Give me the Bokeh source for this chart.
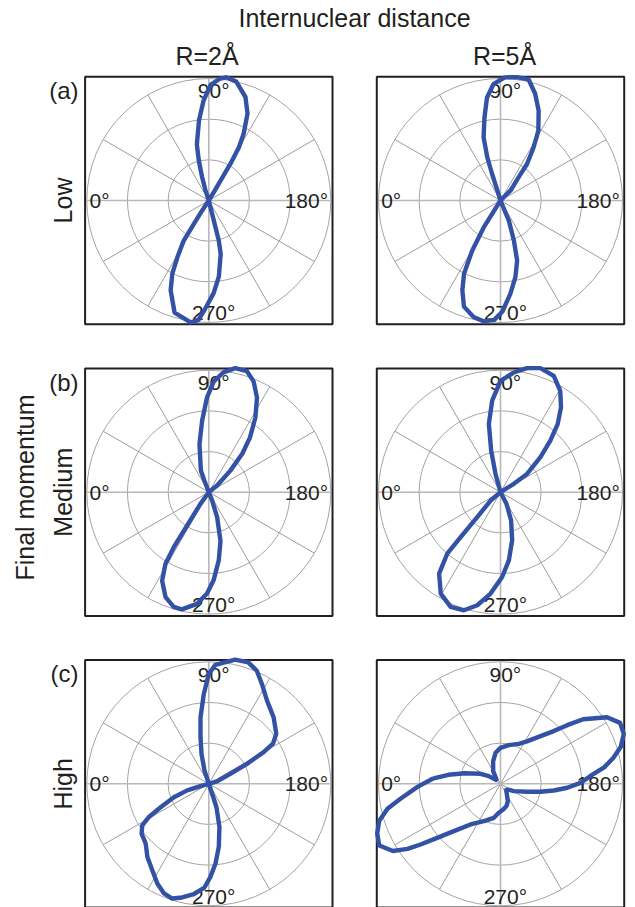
import numpy as np
from bokeh.plotting import figure
from bokeh.models import Range1d
from bokeh.embed import file_html
from bokeh.resources import INLINE
from bokeh.core.properties import value

# ---------------- data (angle in degrees, radius as fraction of outer ring) -------------
theta_low_r2 = [0, 69, 72, 74, 76, 78, 83, 87, 91, 95, 98, 103, 109.5, 114, 117.5, 119.5, 120.5, 120.5, 121, 122,
                255, 256, 256, 256, 257.5, 262.5, 267, 272, 275, 278.5, 287, 293, 296.5, 299, 302, 302.5, 303.5, 305, 360]
r_low_r2 = [0, 0, 0.09, 0.20, 0.34, 0.47, 0.66, 0.82, 0.95, 1.00, 1.02, 1.00, 0.90, 0.78, 0.62, 0.50, 0.35, 0.19, 0.08, 0,
            0, 0.11, 0.22, 0.34, 0.45, 0.63, 0.76, 0.89, 0.985, 1.01, 0.96, 0.80, 0.67, 0.53, 0.39, 0.23, 0.10, 0, 0]

theta_low_r5 = [0, 70, 72.5, 73, 75, 79, 82.5, 86.5, 92, 97.5, 103, 108, 113, 118.5, 122, 126, 128, 135, 140,
                245, 247.5, 251.5, 254.5, 259, 264, 269, 273, 278, 283, 289, 293, 296.5, 299.5, 302, 305, 360]
r_low_r5 = [0, 0, 0.23, 0.37, 0.535, 0.69, 0.85, 0.955, 1.01, 1.02, 1.02, 0.92, 0.80, 0.65, 0.51, 0.37, 0.24, 0.12, 0,
            0, 0.18, 0.345, 0.51, 0.64, 0.77, 0.91, 0.98, 1.0, 0.98, 0.92, 0.80, 0.67, 0.47, 0.26, 0, 0]

theta_med_r2 = [0, 67, 69, 70, 79, 84.7, 89, 92.6, 97, 102, 107.5, 112, 117, 122, 127, 131, 135, 141, 145,
                247, 248, 251.5, 256.5, 261.7, 266.8, 271, 276, 283, 287, 292.4, 297.8, 301.2, 302.5, 303, 305.5, 308, 360]
r_med_r2 = [0, 0, 0.10, 0.19, 0.40, 0.59, 0.78, 0.91, 0.99, 1.04, 1.04, 0.98, 0.87, 0.72, 0.56, 0.42, 0.25, 0.09, 0,
            0, 0.07, 0.215, 0.41, 0.565, 0.72, 0.83, 0.92, 0.986, 0.983, 0.93, 0.82, 0.685, 0.53, 0.34, 0.12, 0, 0]

theta_med_r5 = [0, 72, 74.7, 77.4, 80.3, 84.8, 90, 96.3, 102, 107.8, 114.6, 120.5, 125.5, 130, 134, 138.8, 145.5, 148, 152,
                240, 242.8, 249.4, 256.4, 263, 268.9, 275.6, 281.6, 287.2, 293.5, 300.5, 307, 310.9, 311.6, 313, 320, 325, 360]
r_med_r5 = [0, 0, 0.155, 0.35, 0.567, 0.753, 0.913, 0.987, 1.04, 1.068, 1.049, 0.965, 0.854, 0.729, 0.588, 0.435, 0.264, 0.129, 0,
            0, 0.107, 0.247, 0.406, 0.563, 0.695, 0.835, 0.946, 1.013, 1.025, 0.965, 0.836, 0.667, 0.492, 0.28, 0.106, 0, 0]

theta_high_r2 = [0, 70, 72, 76.3, 79.9, 82.9, 86.8, 90, 93.2, 97, 102, 108, 113, 118, 125, 134.3, 143.5, 148, 150, 152.4,
                 155, 164, 170, 250, 251.6, 251.8, 256.2, 261, 265.2, 269, 272.4, 277.7, 283.2, 287.7, 292.2, 297.3, 303.2,
                 310, 316.5, 323.4, 328, 331, 334, 339, 343, 344.4, 350, 360]
r_high_r2 = [0, 0, 0.115, 0.252, 0.388, 0.549, 0.737, 0.90, 0.977, 1.0, 1.04, 1.047, 1.007, 0.927, 0.832, 0.761, 0.688, 0.62, 0.519, 0.353,
             0.195, 0.07, 0, 0, 0.086, 0.2, 0.365, 0.524, 0.656, 0.763, 0.851, 0.913, 0.957, 0.987, 0.971, 0.92, 0.846,
             0.783, 0.713, 0.686, 0.643, 0.561, 0.439, 0.306, 0.185, 0.071, 0, 0]

theta_high_r5 = [4.7, 9.8, 16.3, 26.6, 33.4, 40, 48, 60, 72, 81, 90, 102, 114.6, 122, 130, 135.3, 138.7, 142, 148, 153,
                 158, 163, 167, 171, 175, 179.3, 183.4, 187.2, 191.3, 196.7, 208.8, 218, 228, 236, 247, 255, 264, 273.4, 281, 294,
                 306.4, 314.6, 319.5, 322.8, 325, 328, 333, 338, 343, 347.5, 351.5, 357.9]
r_high_r5 = [0.551, 0.433, 0.307, 0.183, 0.115, 0.05, 0.05, 0.12, 0.195, 0.257, 0.295, 0.324, 0.36, 0.41, 0.51, 0.614, 0.728, 0.86, 1.03, 1.10,
             1.09, 1.03, 0.95, 0.86, 0.74, 0.656, 0.548, 0.44, 0.334, 0.228, 0.125, 0.076, 0.07, 0.09, 0.154, 0.189, 0.212, 0.238, 0.284, 0.335,
             0.414, 0.545, 0.682, 0.823, 0.93, 1.04, 1.115, 1.09, 1.04, 0.949, 0.829, 0.681]

header = "Internuclear distance"
col_titles = ["R=2Å", "R=5Å"]
row_titles = ["Low", "Medium", "High"]
panel_tags = ["(a)", "(b)", "(c)"]
side_title = "Final momentum"
angle_tick_labels = ["0°", "90°", "180°", "270°"]
ring_values = [1 / 3, 2 / 3, 1.0]
spoke_angles = [30, 60, 120, 150, 210, 240, 300, 330]
axis_spoke_angles = [0, 90, 180, 270]

series = [
    [(theta_low_r2, r_low_r2), (theta_low_r5, r_low_r5)],
    [(theta_med_r2, r_med_r2), (theta_med_r5, r_med_r5)],
    [(theta_high_r2, r_high_r2), (theta_high_r5, r_high_r5)],
]

# ---------------- layout (pixels, origin top-left) ----------------
W, H = 635, 907
RING_PX = 122.0
BOX_HALF = 1.014
col_cx = [208.3, 500.0]
row_cy = [200.0, 491.7, 783.3]

FONT = value("Liberation Sans")
TXT = "#231f20"
BLUE = "#3452a5"

p = figure(width=W, height=H, x_range=Range1d(0, W), y_range=Range1d(0, H),
           output_backend="svg", toolbar_location=None, min_border=0,
           x_axis_type=None, y_axis_type=None, title=None)
p.outline_line_color = None
p.background_fill_color = "white"
p.border_fill_color = "white"


def pol(theta_deg, r):
    t = np.deg2rad(np.asarray(theta_deg, dtype=float))
    r = np.asarray(r, dtype=float)
    return (-r * np.cos(t)).tolist(), (r * np.sin(t)).tolist()


for i, cy in enumerate(row_cy):
    for j, cx in enumerate(col_cx):
        xn, yn = f"px{i}{j}", f"py{i}{j}"
        p.extra_x_ranges[xn] = Range1d((0 - cx) / RING_PX, (W - cx) / RING_PX)
        p.extra_y_ranges[yn] = Range1d((cy - H) / RING_PX, cy / RING_PX)
        kw = dict(x_range_name=xn, y_range_name=yn)

        # rings
        p.circle(x=[0] * len(ring_values), y=[0] * len(ring_values), radius=ring_values,
                 fill_color=None, line_color="#a4a4a4", line_width=1, **kw)
        # spokes
        sx, sy = pol(spoke_angles, [1.0] * len(spoke_angles))
        p.segment(x0=[0] * len(sx), y0=[0] * len(sx), x1=sx, y1=sy,
                  line_color="#9c9c9c", line_width=1, **kw)
        ax, ay = pol(axis_spoke_angles, [1.0] * 4)
        p.segment(x0=[0] * 4, y0=[0] * 4, x1=ax, y1=ay,
                  line_color="#b8b8b8", line_width=1.6, **kw)
        # box
        p.rect(x=[0], y=[0], width=[2 * BOX_HALF], height=[2 * BOX_HALF],
               fill_color=None, line_color=TXT, line_width=2, **kw)
        # angle labels
        lab = dict(text_font=FONT, text_font_size="21px", text_color=TXT, text_baseline="middle", **kw)
        p.text(x=[-0.978], y=[0.0], text=[angle_tick_labels[0]], text_align="left", **lab)
        p.text(x=[0.04], y=[0.9], text=[angle_tick_labels[1]], text_align="center", **lab)
        p.text(x=[0.978], y=[0.0], text=[angle_tick_labels[2]], text_align="right", **lab)
        p.text(x=[0.04], y=[-0.92], text=[angle_tick_labels[3]], text_align="center", **lab)
        # curve
        th, rr = series[i][j]
        th = list(th) + [th[0]]
        rr = list(rr) + [rr[0]]
        cxs, cys = pol(th, rr)
        p.line(x=cxs, y=cys, line_color=BLUE, line_width=4.4, line_join="round", **kw)


# outer texts (pixel coordinates converted to bottom-origin)
def T(x, y_top, text, size, align="center", angle=0.0):
    p.text(x=[x], y=[H - y_top], text=[text], text_align=align, text_baseline="middle", angle=angle,
           text_font=FONT, text_font_size=size, text_color=TXT)


T(354, 17, header, "25px")
T(206.5, 55, col_titles[0], "25px")
T(504, 55, col_titles[1], "25px")
for k, cy in enumerate(row_cy):
    T(78, cy - 110, panel_tags[k], "24px", align="right")
    T(62.5, cy, row_titles[k], "25px", angle=np.pi / 2)
T(24.5, 487, side_title, "25px", angle=np.pi / 2)

open("out.html", "w").write(file_html(p, INLINE))
